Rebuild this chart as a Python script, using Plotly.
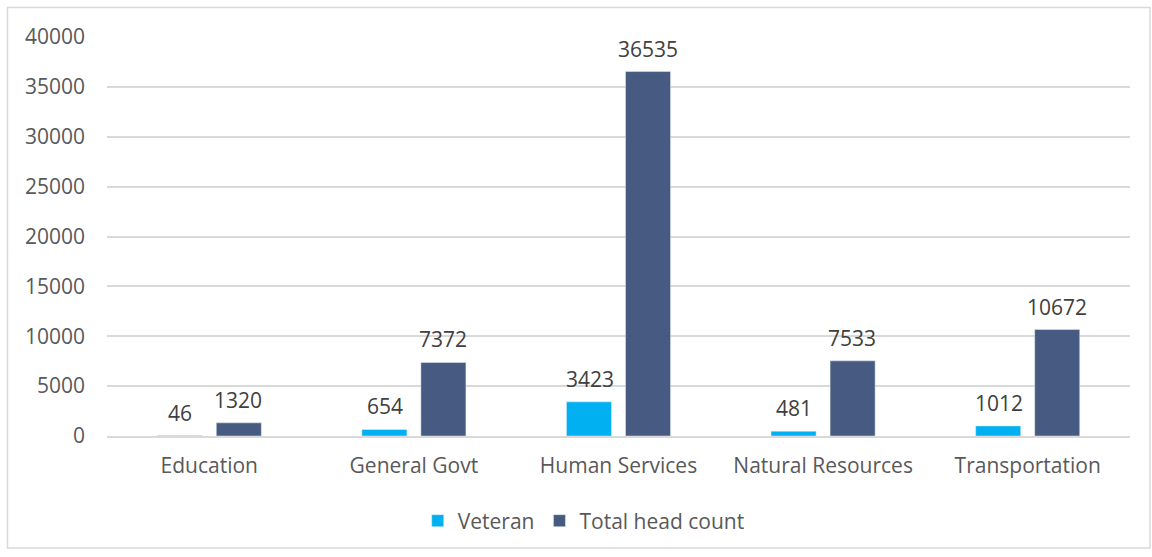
import plotly.graph_objects as go

categories = ["Education", "General Govt", "Human Services", "Natural Resources", "Transportation"]
veteran = [46, 654, 3423, 481, 1012]
total_head_count = [1320, 7372, 36535, 7533, 10672]

W, H = 1152, 557
L, R, T, B = 107, 22, 37, 121
pw, ph = W - L - R, H - T - B

def px_x(x):
    return (x - L) / pw

def px_y(y):
    return (H - B - y) / ph

FONT = "Open Sans"
FS = 21

fig = go.Figure()
fig.add_trace(go.Bar(x=categories, y=veteran, name="Veteran", marker_color="#00B0F0"))
fig.add_trace(go.Bar(x=categories, y=total_head_count, name="Total head count", marker_color="#465A82"))

# value labels above bars
for i, cat in enumerate(categories):
    for vals, shift in ((veteran, -29), (total_head_count, 29)):
        fig.add_annotation(x=cat, y=vals[i], text=str(vals[i]), showarrow=False,
                           xshift=shift, yshift=7, yanchor="bottom",
                           font=dict(family=FONT, size=FS, color="#404040"))

# outer chart border
fig.add_shape(type="rect", xref="paper", yref="paper",
              x0=px_x(7.5), x1=px_x(1150), y0=px_y(548), y1=px_y(7.5),
              line=dict(color="#d9d9d9", width=1.5), layer="below")

fig.update_layout(
    width=W, height=H,
    margin=dict(l=L, r=R, t=T, b=B),
    paper_bgcolor="white", plot_bgcolor="white",
    font=dict(family=FONT, size=FS, color="#595959"),
    barmode="group", bargap=0.423, bargroupgap=0.237,
    showlegend=True,
    legend=dict(orientation="h", x=0.466, xanchor="center", y=px_y(521), yanchor="middle",
                font=dict(size=FS, color="#595959"), itemwidth=30, traceorder="normal"),
    xaxis=dict(showgrid=False, showline=True, linecolor="#d9d9d9", linewidth=1.5,
               ticks="", ticklabelstandoff=10, tickfont=dict(size=FS, color="#595959")),
    yaxis=dict(range=[0, 40000], dtick=5000, tickformat="d", showgrid=True,
               gridcolor="#d9d9d9", gridwidth=1.5,
               zeroline=False, showline=False, ticks="", ticklabelstandoff=21,
               tickfont=dict(size=FS, color="#595959")),
)

fig.write_html("out.html", config={"displayModeBar": False},
               post_script="document.body.style.margin='0';")
